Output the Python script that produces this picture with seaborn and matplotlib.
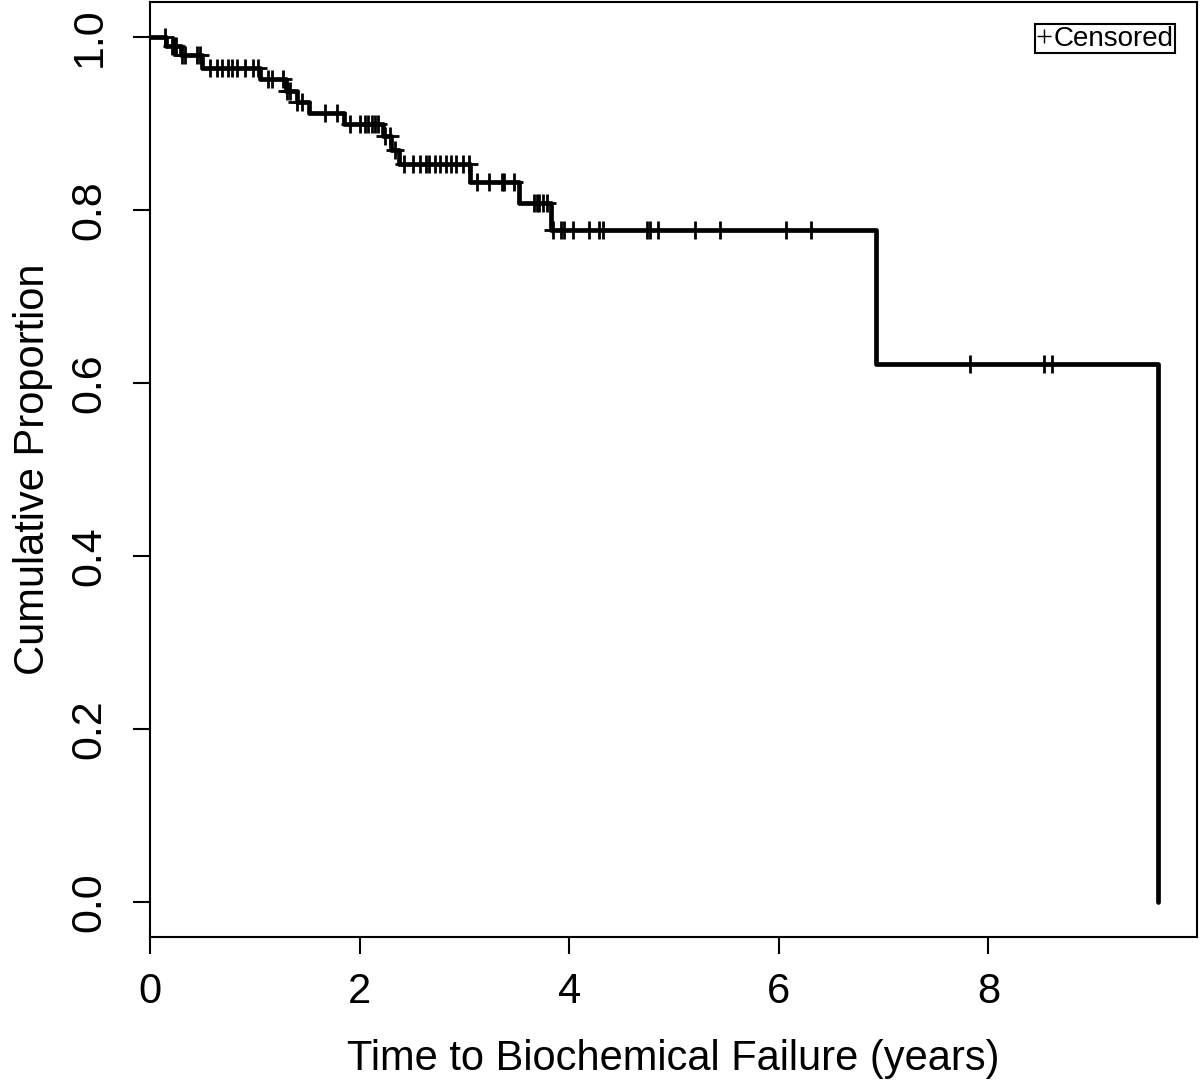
import matplotlib
matplotlib.use("Agg")
import matplotlib.pyplot as plt
import seaborn as sns
import numpy as np
import pandas as pd
from matplotlib.lines import Line2D

# Kaplan-Meier estimate
event_times = [0, 0.15, 0.30, 0.50, 1.05, 1.30, 1.40, 1.52, 1.85, 2.22, 2.30, 2.38,
               3.05, 3.52, 3.83, 6.93, 9.62]
survival = [1.0, 0.99, 0.979, 0.964, 0.951, 0.938, 0.925, 0.912, 0.899, 0.886, 0.869,
            0.853, 0.832, 0.808, 0.777, 0.622, 0.0]

censor_times = [0.14, 0.21, 0.23, 0.25, 0.31, 0.33, 0.45, 0.48, 0.57, 0.64, 0.69, 0.74,
                0.78, 0.83, 0.91, 0.98, 1.03, 1.13, 1.16, 1.27, 1.31, 1.34, 1.40, 1.45,
                1.67, 1.78, 1.91, 2.00, 2.05, 2.08, 2.12, 2.15, 2.18, 2.24, 2.29, 2.34,
                2.42, 2.51, 2.58, 2.63, 2.66, 2.72, 2.77, 2.82, 2.87, 2.92, 2.99, 3.04,
                3.12, 3.23, 3.36, 3.38, 3.47, 3.66, 3.69, 3.71, 3.75, 3.79, 3.85, 3.92,
                3.95, 4.04, 4.19, 4.28, 4.32, 4.74, 4.77, 4.85, 5.20, 5.44, 6.07, 6.31,
                7.82, 8.53, 8.61]

x_ticks = [0, 2, 4, 6, 8]
y_ticks = [0.0, 0.2, 0.4, 0.6, 0.8, 1.0]

sns.set_style("white")
plt.rcParams['font.family'] = ['Liberation Sans', 'DejaVu Sans']
plt.rcParams['text.color'] = 'black'
plt.rcParams['axes.labelcolor'] = 'black'

km = pd.DataFrame({"time": event_times, "surv": survival})
idx = np.searchsorted(event_times, censor_times, side='right') - 1
cens = pd.DataFrame({"time": censor_times, "surv": np.array(survival)[idx]})

fig = plt.figure(figsize=(12, 10.89), dpi=100)
ax = fig.add_axes([0.125, 0.1396, 0.8725, 0.8585])

sns.lineplot(data=km, x="time", y="surv", drawstyle="steps-post", color="black",
             linewidth=3.4, estimator=None, ax=ax)
sns.scatterplot(data=cens, x="time", y="surv", marker="+", s=180, color="black",
                linewidth=2.0, ax=ax, zorder=3)

ax.set_xlim(0, 9.99)
ax.set_ylim(-0.0405, 1.0405)
ax.set_xticks(x_ticks)
ax.set_xticklabels([str(t) for t in x_ticks])
ax.set_yticks(y_ticks)
ax.set_yticklabels([f"{t:.1f}" for t in y_ticks], rotation=90, va="center")
ax.tick_params(axis='x', length=12, width=1.5, pad=13, labelsize=30, direction='out',
               bottom=True, colors='black')
ax.tick_params(axis='y', length=12, width=1.5, pad=17, labelsize=31, direction='out',
               left=True, colors='black')
for sp in ax.spines.values():
    sp.set_visible(True)
    sp.set_color("black")
    sp.set_linewidth(1.5)

ax.set_xlabel("Time to Biochemical Failure (years)", fontsize=30, labelpad=20)
ax.set_ylabel("Cumulative Proportion", fontsize=30, labelpad=12)

handle = Line2D([], [], color="black", marker="+", linestyle="none", markersize=10,
                markeredgewidth=1)
leg = ax.legend([handle], ["Censored"], loc="upper right", fontsize=20,
                handlelength=0.5, handletextpad=0.1, borderpad=0.05,
                borderaxespad=0.8, fancybox=False, framealpha=1)
leg.get_frame().set_edgecolor("black")
leg.get_frame().set_linewidth(1.5)

fig.savefig("out.png", dpi=100)
